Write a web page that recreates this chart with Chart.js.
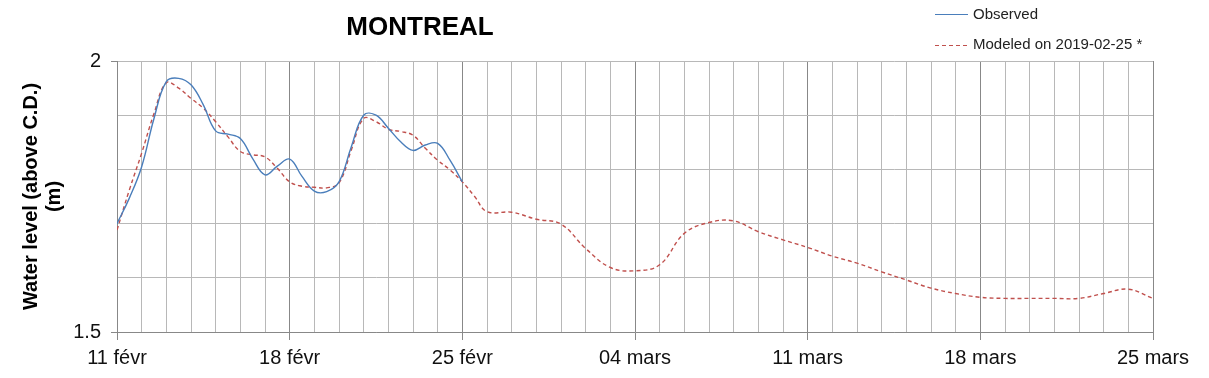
<!DOCTYPE html>
<html>
<head>
<meta charset="utf-8">
<script src="https://cdn.jsdelivr.net/npm/chart.js@4.4.1/dist/chart.umd.min.js"></script>
<style>
  body { margin: 0; background: #fff; }
  #wrap { width: 1209px; height: 378px; }
</style>
</head>
<body>
<div id="wrap"><canvas id="levelChart" width="1209" height="378"></canvas></div>
<script>
// days counted from 11 févr
const weekLabels = ['11 févr', '18 févr', '25 févr', '04 mars', '11 mars', '18 mars', '25 mars'];

const obsDays = [0, 0.5, 1, 1.5, 2, 2.5, 3, 3.5, 4, 4.5, 5, 5.5, 6, 6.5, 7,
  7.5, 8, 8.5, 9, 9.5, 10, 10.5, 11, 11.5, 12, 12.5, 13, 13.5, 14];
const obsLevels = [1.700, 1.747, 1.805, 1.894, 1.962, 1.968, 1.956, 1.919, 1.871, 1.865, 1.857, 1.820, 1.790, 1.806, 1.819,
  1.787, 1.760, 1.759, 1.777, 1.842, 1.900, 1.900, 1.876, 1.851, 1.835, 1.845, 1.848, 1.817, 1.777];

const modDays = [0, 0.5, 1, 1.5, 2, 2.5, 3, 3.5, 4, 4.5, 5, 5.5, 6, 6.5, 7,
  7.5, 8, 8.5, 9, 9.5, 10, 10.5, 11, 11.5, 12, 12.5, 13, 13.5, 14, 14.5,
  15, 16, 17, 18, 19, 20, 21, 22, 23, 24, 25, 26, 27, 28,
  29, 30, 31, 32, 33, 34, 35, 36, 37, 38, 39, 40, 41, 42];
const modLevels = [1.688, 1.762, 1.830, 1.903, 1.960, 1.950, 1.931, 1.913, 1.888, 1.860, 1.833, 1.827, 1.823, 1.802, 1.777,
  1.769, 1.767, 1.766, 1.775, 1.836, 1.894, 1.888, 1.874, 1.870, 1.863, 1.839, 1.817, 1.799, 1.777, 1.750,
  1.722, 1.721, 1.708, 1.699, 1.654, 1.619, 1.613, 1.624, 1.682, 1.702, 1.705, 1.685, 1.670, 1.656,
  1.640, 1.627, 1.611, 1.596, 1.581, 1.571, 1.564, 1.562, 1.562, 1.562, 1.562, 1.571, 1.579, 1.562];

const blue = '#4a7ebb';
const red = '#c0504d';
const FONT = '"Liberation Sans", Arial, sans-serif';

// title + legend drawn by hand, the original puts them off-centre
const headerPlugin = {
  id: 'header',
  afterDraw(chart) {
    const ctx = chart.ctx;
    ctx.save();
    ctx.fillStyle = '#000';
    ctx.font = 'bold 26px ' + FONT;
    ctx.textAlign = 'center';
    ctx.textBaseline = 'middle';
    ctx.fillText('MONTREAL', 420, 28);

    ctx.font = '15px ' + FONT;
    ctx.textAlign = 'left';
    ctx.fillStyle = '#222';
    ctx.fillText('Observed', 973, 15);
    ctx.fillText('Modeled on 2019-02-25 *', 973, 45);

    ctx.lineWidth = 1.2;
    ctx.strokeStyle = blue;
    ctx.beginPath();
    ctx.moveTo(935, 14.5); ctx.lineTo(968, 14.5);
    ctx.stroke();
    ctx.strokeStyle = red;
    ctx.setLineDash([4, 3]);
    ctx.beginPath();
    ctx.moveTo(935, 45.5); ctx.lineTo(968, 45.5);
    ctx.stroke();
    ctx.restore();
  }
};

const isWeek = v => Math.abs(v % 7) < 1e-6;
const isLabelled = v => Math.abs(v - 2) < 1e-6 || Math.abs(v - 1.5) < 1e-6;

new Chart(document.getElementById('levelChart'), {
  type: 'line',
  data: {
    datasets: [
      {
        label: 'Observed',
        data: obsDays.map((d, i) => ({ x: d, y: obsLevels[i] })),
        borderColor: blue,
        borderWidth: 1.4,
        pointRadius: 0,
        tension: 0.4,
        fill: false
      },
      {
        label: 'Modeled on 2019-02-25 *',
        data: modDays.map((d, i) => ({ x: d, y: modLevels[i] })),
        borderColor: red,
        borderWidth: 1.4,
        borderDash: [4, 3],
        pointRadius: 0,
        tension: 0.4,
        fill: false
      }
    ]
  },
  options: {
    responsive: false,
    animation: false,
    layout: { padding: { left: 0, right: 56, top: 61, bottom: 0 } },
    plugins: {
      legend: { display: false },
      title: { display: false },
      tooltip: { enabled: false }
    },
    scales: {
      x: {
        type: 'linear',
        min: 0,
        max: 42,
        afterFit: scale => { scale.height = 46; },
        border: { color: '#888', width: 1 },
        grid: {
          color: ctx => isWeek(ctx.tick.value) ? '#888' : '#b8b8b8',
          tickColor: ctx => isWeek(ctx.tick.value) ? '#888' : 'rgba(0,0,0,0)',
          tickLength: 8,
          lineWidth: 1
        },
        ticks: {
          stepSize: 1,
          autoSkip: false,
          maxRotation: 0,
          maxTicksLimit: 1000,
          padding: 6,
          color: '#111',
          font: { family: FONT, size: 20 },
          callback: v => isWeek(v) ? weekLabels[Math.round(v / 7)] : ''
        }
      },
      y: {
        min: 1.5,
        max: 2,
        afterFit: scale => { scale.width = 117; },
        border: { color: '#888', width: 1 },
        grid: {
          color: '#b8b8b8',
          tickColor: ctx => isLabelled(ctx.tick.value) ? '#888' : 'rgba(0,0,0,0)',
          tickLength: 6,
          lineWidth: 1
        },
        ticks: {
          stepSize: 0.1,
          autoSkip: false,
          padding: 10,
          color: '#111',
          font: { family: FONT, size: 20 },
          callback: v => Math.abs(v - 2) < 1e-6 ? '2' : (Math.abs(v - 1.5) < 1e-6 ? '1.5' : '')
        },
        title: {
          display: true,
          text: ['Water level (above C.D.)', '(m)'],
          color: '#000',
          font: { family: FONT, size: 20, weight: 'bold', lineHeight: 1.15 },
          padding: { top: 20, bottom: 0 }
        }
      }
    }
  },
  plugins: [headerPlugin]
});
</script>
</body>
</html>
